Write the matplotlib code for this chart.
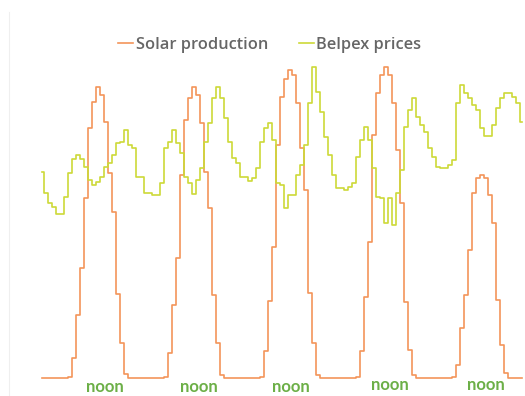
# Solar production vs Belpex prices over five days (hourly)
import numpy as np
import matplotlib.pyplot as plt
from matplotlib.lines import Line2D

# solar output per hour, one row per day (arbitrary units)
solar_day1 = [0, 0, 0, 0, 0, 0, 1.5, 20.5, 63, 110.5, 180, 250, 276.5, 291, 283, 256.5, 205, 166.5, 84, 35, 4, 0, 0, 0]
solar_day2 = [0, 0, 0, 0, 0, 0, 1.5, 25.5, 73, 120.5, 203, 258, 280, 291.5, 283, 255, 206.5, 170, 83, 35, 3, 0, 0, 0]
solar_day3 = [0, 0, 0, 0, 0, 0, 1, 27, 77.5, 131.5, 233, 281.5, 299, 308, 303, 275, 230, 188.5, 85, 35, 3, 0, 0, 0]
solar_day4 = [0, 0, 0, 0, 0, 0, 1.5, 27, 81, 136.5, 243, 285, 303, 311.5, 303, 275, 228, 175, 76.5, 28, 3, 0, 0, 0]
solar_day5 = [0, 0, 0, 0, 0, 0, 1, 13, 50, 83, 128, 185, 200, 203, 200, 183, 155.5, 78, 33, 5, 0, 0, 0, 0]

# Belpex day-ahead price (EUR/MWh), last hour of the previous day first
price_prev = [57.1]
price_day1 = [51.7, 49.2, 48.3, 46.5, 46.5, 50.8, 56.7, 60.3, 61.3, 60.3, 58.3, 55.0,
              53.8, 54.5, 55.8, 58.3, 59.2, 61.3, 64.2, 64.6, 67.5, 63.8, 62.9, 55.8]
price_day2 = [55.8, 51.7, 51.7, 51.3, 51.3, 54.2, 62.9, 64.6, 67.5, 64.2, 61.7, 55.8,
              54.2, 51.5, 55.0, 57.9, 64.6, 69.2, 75.4, 78.3, 75.4, 70.4, 64.6, 60.4]
price_day3 = [59.3, 55.8, 55.8, 54.8, 55.4, 57.9, 64.6, 67.9, 69.2, 65.0, 54.2, 53.8,
              47.9, 51.3, 51.3, 56.3, 58.8, 63.8, 74.2, 83.3, 77.1, 72.1, 65.8, 61.3]
price_day4 = [56.3, 53.0, 52.9, 52.5, 53.3, 54.2, 60.8, 65.0, 68.3, 65.0, 57.9, 50.8,
              50.4, 44.2, 50.4, 43.8, 51.7, 57.5, 68.3, 72.5, 75.4, 70.8, 68.8, 67.1]
price_day5 = [62.9, 60.8, 58.3, 57.9, 57.9, 58.8, 60.0, 74.2, 78.8, 76.7, 75.4, 73.8,
              72.5, 67.9, 66.0, 66.0, 68.8, 73.0, 75.5, 76.7, 76.7, 75.8, 74.2, 69.6]

solar = [0] + solar_day1 + solar_day2 + solar_day3 + solar_day4 + solar_day5
price = price_prev + price_day1 + price_day2 + price_day3 + price_day4 + price_day5
hours = np.arange(len(solar))

noon_labels = ['noon'] * 5
noon_pos = [15.75, 39.2, 62.2, 87, 111]
noon_off = [-8.7, -8.7, -8.7, -7.0, -6.4]

plt.rcParams['font.family'] = ['Open Sans', 'DejaVu Sans']

fig = plt.figure(figsize=(5.25, 3.96), dpi=100)
ax = fig.add_axes([0, 0, 1, 1])
ax2 = ax.twinx()

l1, = ax.plot(hours, solar, drawstyle='steps-mid', color='#F3955A', lw=1.2, label='Solar production')
l2, = ax2.plot(hours, price, drawstyle='steps-mid', color='#CDD938', lw=1.2, label='Belpex prices')

ax.set_xlim(-10.5, 120.75)
ax.set_ylim(-17.7, 378.3)
ax2.set_ylim(1, 100)

for a in (ax, ax2):
    a.axis('off')

for lab, xp, yp in zip(noon_labels, noon_pos, noon_off):
    ax.text(xp, yp, lab, ha='center', va='center', fontsize=12, fontweight='bold',
            color='#6CAF47', family=['Lato', 'DejaVu Sans'])

fig.legend(handles=[l1, l2], loc='center', bbox_to_anchor=(0.514, 0.886), ncol=2, frameon=False,
           prop={'size': 11.8, 'weight': 'semibold'}, labelcolor='#666666',
           handlelength=0.9, handletextpad=0.15, columnspacing=1.9)

# faint chart border on the left
fig.add_artist(Line2D([9 / 525, 9 / 525], [0, 0.97], color='#efefef', lw=0.8))

fig.savefig('out.png', dpi=100)
